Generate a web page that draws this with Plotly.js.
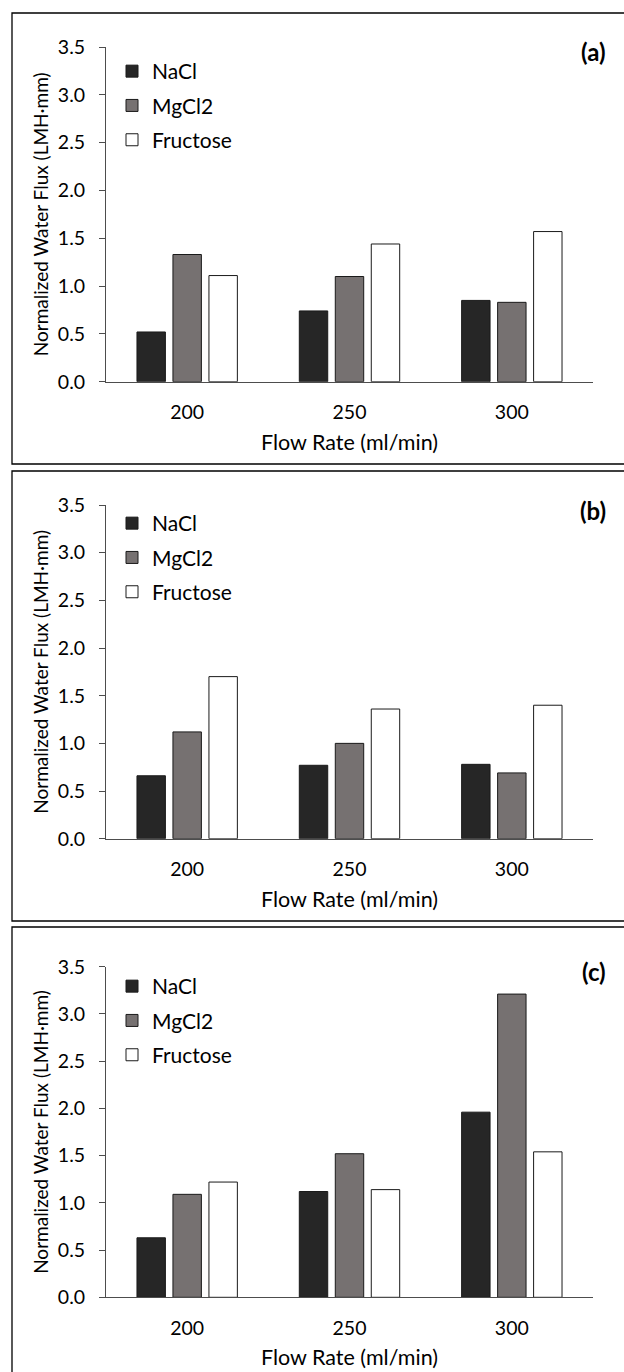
<!DOCTYPE html>
<html>
<head>
<meta charset="utf-8">
<script src="https://cdn.plot.ly/plotly-3.0.1.min.js"></script>
<style>html,body{margin:0;padding:0;background:#fff;}#chart{width:624px;height:1372px;}</style>
</head>
<body>
<div id="chart"></div>
<script>
// ---- data ----
const categories = ['200', '250', '300'];
const seriesNames = ['NaCl', 'MgCl2', 'Fructose'];
const panelLabels = ['(a)', '(b)', '(c)'];
const a_NaCl = [0.52, 0.74, 0.85];
const a_MgCl2 = [1.33, 1.10, 0.83];
const a_Fructose = [1.11, 1.44, 1.57];
const b_NaCl = [0.66, 0.77, 0.78];
const b_MgCl2 = [1.12, 1.00, 0.69];
const b_Fructose = [1.70, 1.36, 1.40];
const c_NaCl = [0.63, 1.12, 1.96];
const c_MgCl2 = [1.09, 1.52, 3.21];
const c_Fructose = [1.22, 1.14, 1.54];
const yTickVals = [0, 0.5, 1, 1.5, 2, 2.5, 3, 3.5];
const yTickText = ['0.0', '0.5', '1.0', '1.5', '2.0', '2.5', '3.0', '3.5'];
const xTitle = 'Flow Rate (ml/min)';
const yTitle = 'Normalized Water Flux (LMH·mm)';

// ---- styling ----
const W = 624, H = 1372;
const FONT = 'Lato, "Open Sans", sans-serif';
const fills = ['#262626', '#767171', '#ffffff'];
const panels = [
  {vals: [a_NaCl, a_MgCl2, a_Fructose], top: 47, zero: 381.7, legTop: 51, box: [13, 464]},
  {vals: [b_NaCl, b_MgCl2, b_Fructose], top: 505, zero: 838.7, legTop: 503, box: [471, 921]},
  {vals: [c_NaCl, c_MgCl2, c_Fructose], top: 966.7, zero: 1297.3, legTop: 966, box: [927, 1380]}
];
const py = v => 1 - v / H;
const xDom = [106 / W, 593 / W];

const traces = [];
const layout = {
  width: W, height: H,
  margin: {l: 0, r: 0, t: 0, b: 0},
  paper_bgcolor: '#fff', plot_bgcolor: 'rgba(0,0,0,0)',
  font: {family: FONT, size: 19, color: '#000'},
  barmode: 'group', bargap: 0.335, bargroupgap: 0.21,
  showlegend: true,
  shapes: [], annotations: []
};

panels.forEach((p, i) => {
  const sx = i === 0 ? '' : String(i + 1);
  const legName = i === 0 ? 'legend' : 'legend' + (i + 1);
  p.vals.forEach((vals, k) => {
    traces.push({
      type: 'bar', x: categories, y: vals, name: seriesNames[k],
      xaxis: 'x' + sx, yaxis: 'y' + sx, legend: legName, legendgroup: 'g' + i + k,
      marker: {color: fills[k], line: {color: '#1a1a1a', width: 1}},
      hoverinfo: 'x+y+name'
    });
  });
  layout['xaxis' + sx] = {
    domain: xDom, anchor: 'y' + sx, type: 'category',
    showline: true, linecolor: '#4d4d4d', linewidth: 1, ticks: '', showgrid: false, zeroline: false,
    tickfont: {size: 19.5, color: '#000'}, ticklabelstandoff: 13,
    title: {text: xTitle, font: {size: 21.5, color: '#000'}, standoff: 12}
  };
  layout['yaxis' + sx] = {
    domain: [py(p.zero), py(p.top)], anchor: 'x' + sx, range: [0, 3.5],
    tickvals: yTickVals, ticktext: yTickText,
    showline: true, linecolor: '#4d4d4d', linewidth: 1, ticks: 'outside', ticklen: 6, tickcolor: '#4d4d4d',
    showgrid: false, zeroline: false, ticklabelstandoff: 10,
    tickfont: {size: 19.5, color: '#000'},
    title: {text: yTitle, font: {size: 19, color: '#000'}, standoff: 4}
  };
  layout[legName] = {
    x: 112 / W, xanchor: 'left', y: py(p.legTop), yanchor: 'top',
    bgcolor: 'rgba(0,0,0,0)', font: {size: 21, color: '#000'},
    traceorder: 'grouped', tracegroupgap: 4, itemclick: false, itemdoubleclick: false
  };
  layout.shapes.push({
    type: 'rect', xref: 'paper', yref: 'paper',
    x0: 12 / W, x1: 630 / W, y0: py(p.box[1]), y1: py(p.box[0]),
    line: {color: '#000', width: 1.3}, fillcolor: 'rgba(0,0,0,0)', layer: 'below'
  });
  layout.annotations.push({
    text: '<b>' + panelLabels[i] + '</b>', xref: 'paper', yref: 'paper',
    x: 608 / W, xanchor: 'right', y: py(p.top + 5), yanchor: 'middle',
    showarrow: false, font: {size: 24, color: '#000'}
  });
});

Plotly.newPlot('chart', traces, layout, {displayModeBar: false});
</script>
</body>
</html>
